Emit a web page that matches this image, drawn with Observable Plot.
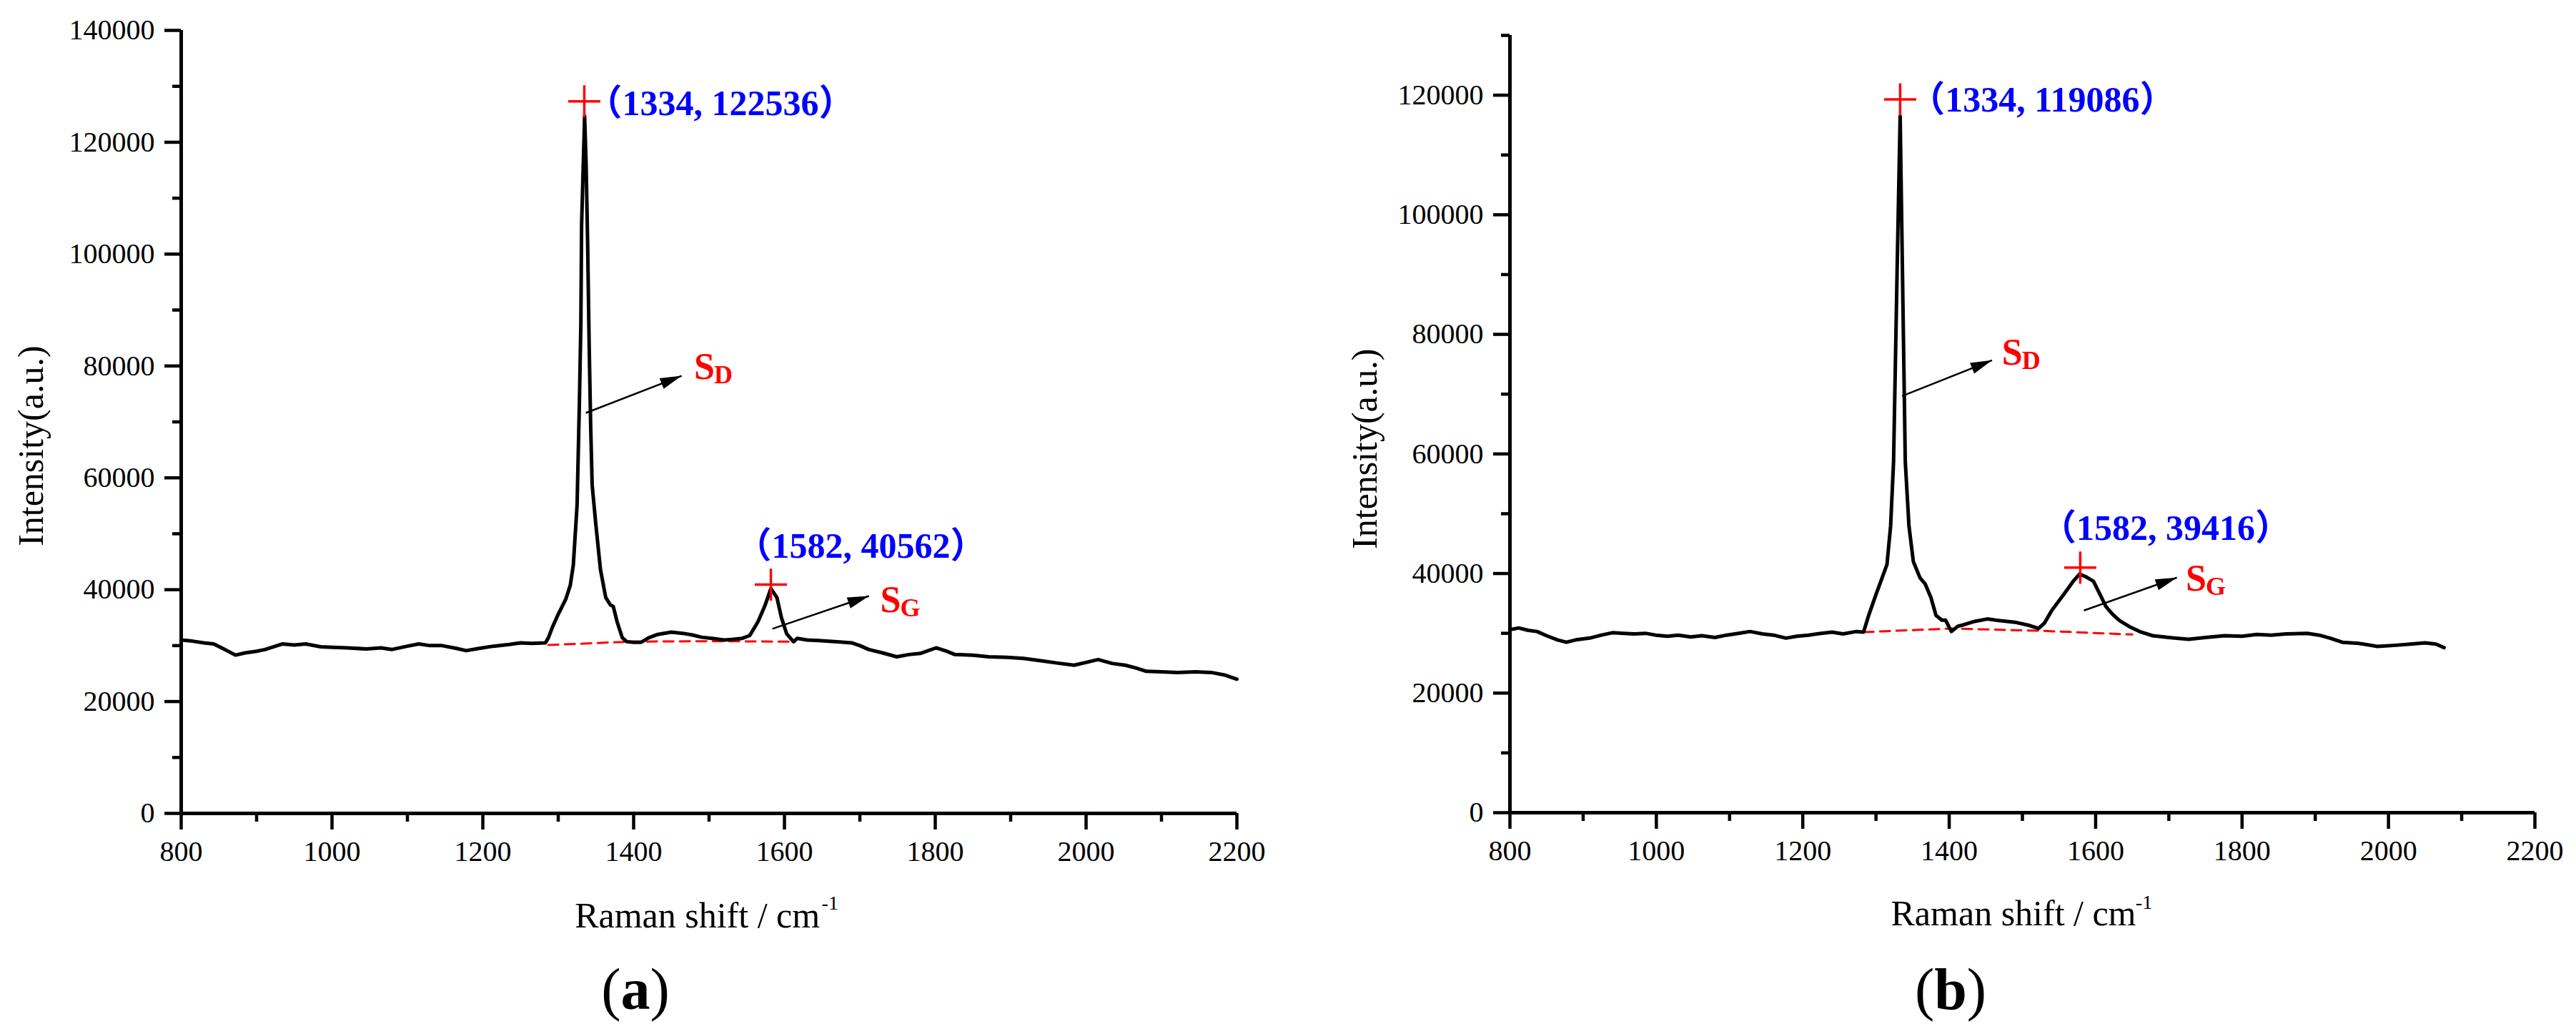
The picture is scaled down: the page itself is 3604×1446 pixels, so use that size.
<!DOCTYPE html>
<html><head><meta charset="utf-8">
<script src="https://cdn.jsdelivr.net/npm/d3@7"></script>
<script src="https://cdn.jsdelivr.net/npm/@observablehq/plot@0.6"></script>
<style>
body{margin:0;background:#fff;}
#wrap{position:relative;width:3604px;height:1446px;background:#fff;overflow:hidden;}
.panel{position:absolute;top:0;}
.panel svg text{font-family:"Liberation Serif","Noto Sans CJK SC",serif;}
.cap{position:absolute;top:1343px;width:200px;text-align:center;font-family:"Liberation Serif",serif;font-size:82px;line-height:82px;color:#000;}
</style></head><body>
<div id="wrap">
<div id="pa" class="panel" style="left:0"></div>
<div id="pb" class="panel" style="left:1800px"></div>
<div class="cap" style="left:789px">(<b>a</b>)</div>
<div class="cap" style="left:2629px">(<b>b</b>)</div>
</div>
<script>
// ---------- Panel (a) spectrum ----------
const shiftA = [800,815,830,843,855,872,885,900,911,934,950,965,985,1001,1020,1046,1065,1079,1100,1115,1130,1146,1165,1178,1195,1214,1235,1250,1265,1283,1287,1292,1300,1310,1316,1320,1325,1328,1330,1331,1334,1335,1337,1339,1341,1343,1345,1350,1356,1363,1369,1373,1378,1385,1391,1400,1410,1420,1432,1450,1465,1478,1490,1504,1520,1530,1544,1554,1565,1574,1582,1590,1596,1603,1612,1617,1630,1645,1670,1689,1700,1712,1730,1749,1765,1780,1801,1815,1826,1850,1871,1895,1917,1940,1961,1984,2000,2016,2035,2052,2066,2080,2100,2121,2145,2166,2185,2200];
const intensityA = [31000,30800,30500,30300,29500,28300,28700,29000,29300,30300,30100,30300,29800,29700,29600,29400,29600,29300,29900,30300,30000,30000,29500,29100,29500,29900,30200,30500,30400,30500,31400,33200,35600,38300,40800,44400,55100,73000,87400,105300,119800,124700,116000,101800,83900,69400,58700,51500,43600,38600,37300,37000,34300,31400,30700,30600,30600,31400,32000,32400,32200,31900,31500,31300,31000,31100,31300,31800,34300,37100,40200,38600,35000,32100,30700,31300,31000,30900,30700,30500,30000,29300,28700,28000,28400,28600,29600,29000,28400,28300,28000,27900,27700,27300,26900,26500,27000,27500,26800,26500,26000,25400,25300,25200,25300,25200,24700,24000];
const baseShiftA = [1287,1393,1500,1614];
const baseA = [30100,30700,30800,30700];
// annotations (a)
const crossXA = [1334.6,1582];
const crossYA = [127300,40900];
const labelTextA = ["（1334, 122536）","（1582, 40562）"];
const labelXA = [1337.5,1535.6];
const labelYA = [124900,45770];
const sLabelXA = [1480,1727];
const sLabelYA = [77730,35930];
const subA = ["D","G"];
const arrowX1A = [1336.6,1584], arrowY1A = [71600,33000];
const arrowX2A = [1463.6,1712], arrowY2A = [78240,38870];

// ---------- Panel (b) spectrum ----------
const shiftB = [800,812,825,837,850,865,877,890,909,925,940,955,970,985,999,1015,1030,1047,1062,1080,1096,1112,1128,1145,1160,1177,1192,1208,1225,1240,1255,1273,1283,1290,1300,1315,1320,1324,1329,1333,1336,1340,1345,1351,1360,1367,1375,1382,1390,1395,1403,1412,1419,1435,1452,1470,1492,1510,1522,1530,1540,1557,1570,1578,1586,1597,1606,1614,1623,1633,1648,1662,1678,1700,1727,1750,1776,1800,1820,1840,1860,1889,1905,1920,1937,1960,1985,2010,2030,2050,2065,2076];
const intensityB = [30600,30900,30500,30300,29600,28900,28500,28900,29200,29700,30100,30000,29900,30000,29700,29500,29700,29400,29600,29300,29700,30000,30300,29900,29700,29200,29500,29700,30000,30200,29900,30300,30200,33000,36500,41500,48000,58700,91700,116500,91700,58700,48000,42000,39300,38300,36000,33000,32200,32200,30300,31200,31400,32000,32400,32100,31800,31300,30800,31700,33800,36600,38800,39900,39500,38700,36500,34500,33200,32100,31000,30200,29600,29300,29000,29300,29600,29500,29800,29700,29900,30000,29700,29200,28500,28300,27800,28000,28200,28400,28200,27600];
const baseShiftB = [1283,1403,1529,1650];
const baseB = [30200,30800,30400,29800];
// annotations (b)
const crossXB = [1333,1579];
const crossYB = [119300,41000];
const labelTextB = ["（1334, 119086）","（1582, 39416）"];
const labelXB = [1345.4,1525];
const labelYB = [117250,45660];
const sLabelXB = [1472,1723];
const sLabelYB = [74940,37170];
const subB = ["D","G"];
const arrowX1B = [1335.6,1584], arrowY1B = [69680,33820];
const arrowX2B = [1458.5,1711], arrowY2B = [75660,39320];

// ---------- axis texts ----------
const xTicks = [800,1000,1200,1400,1600,1800,2000,2200];
const xMinor = [900,1100,1300,1500,1700,1900,2100];
const yTitle = "Intensity(a.u.)";
const xTitle = "Raman shift / cm";
const xTitleSup = "-1";

const SERIF = "'Liberation Serif','Times New Roman',serif";
const LABELFONT = "'Liberation Serif','Noto Sans CJK SC',serif";

function panel(o) {
  const spec = o.shift.map((x, i) => ({x, y: o.intensity[i]}));
  const base = o.baseShift.map((x, i) => ({x, y: o.base[i]}));
  const cross = o.crossX.map((x, i) => ({x, y: o.crossY[i]}));
  const labels = o.labelText.map((t, i) => ({x: o.labelX[i], y: o.labelY[i], t}));
  const sl = o.sub.map((s, i) => ({x: o.sLabelX[i], y: o.sLabelY[i], s}));
  const arrows = o.ax1.map((x1, i) => ({x1, y1: o.ay1[i], x2: o.ax2[i], y2: o.ay2[i]}));
  // pixel-space scales mirroring the plot layout, for arrowhead direction
  const sx = d3.scaleLinear([800, 2200], [o.mL, o.W - o.mR]);
  const sy = d3.scaleLinear([0, o.yMax], [o.H - o.mB, o.mT]);
  const rot = d => 90 + Math.atan2(sy(d.y2) - sy(d.y1), sx(d.x2) - sx(d.x1)) * 180 / Math.PI;
  return Plot.plot({
    width: o.W, height: o.H,
    marginLeft: o.mL, marginRight: o.mR, marginTop: o.mT, marginBottom: o.mB,
    style: {fontFamily: SERIF, fontSize: "40px", color: "black", background: "white", overflow: "visible"},
    x: {domain: [800, 2200], axis: null},
    y: {domain: [0, o.yMax], axis: null},
    marks: [
      Plot.line(base, {x: "x", y: "y", stroke: "#ff0000", strokeWidth: 3, strokeDasharray: "14,9"}),
      Plot.line(spec, {x: "x", y: "y", stroke: "black", strokeWidth: 5, strokeLinejoin: "round"}),
      Plot.axisX({ticks: xTicks, tickSize: 23, tickPadding: 15, strokeWidth: 4.5, tickFormat: d => String(d), label: null, fontSize: 40, fontFamily: SERIF}),
      Plot.axisX({ticks: xMinor, tickSize: 12, strokeWidth: 4.5, text: null, label: null}),
      Plot.axisY({ticks: o.yMajor, tickSize: 23, tickPadding: 14, strokeWidth: 4.5, tickFormat: d => String(d), label: null, fontSize: 40, fontFamily: SERIF}),
      Plot.axisY({ticks: o.yMinor, tickSize: 12, strokeWidth: 4.5, text: null, label: null}),
      Plot.ruleX([800], {strokeWidth: 5}),
      Plot.ruleY([0], {strokeWidth: 5}),
      Plot.link(arrows, {x1: "x1", y1: "y1", x2: "x2", y2: "y2", stroke: "black", strokeWidth: 2.5}),
      Plot.vector(arrows, {x: "x2", y: "y2", length: 30, rotate: rot, shape: "spike", r: 8, anchor: "end", fill: "black", stroke: "none"}),
      Plot.dot(cross, {x: "x", y: "y", symbol: "plus", r: 14.5, stroke: "#ff0000", strokeWidth: 3.5}),
      Plot.text(labels, {x: "x", y: "y", text: "t", textAnchor: "start", lineAnchor: "bottom", fill: "#0000ff", fontWeight: "bold", fontSize: 50, fontFamily: LABELFONT}),
      Plot.text(sl, {x: "x", y: "y", text: () => "S", textAnchor: "start", lineAnchor: "bottom", fill: "#ff0000", fontWeight: "bold", fontSize: 52, fontFamily: SERIF}),
      Plot.text(sl, {x: "x", y: "y", text: "s", dx: 28, dy: 6, textAnchor: "start", lineAnchor: "bottom", fill: "#ff0000", fontWeight: "bold", fontSize: 36, fontFamily: SERIF}),
      Plot.text([yTitle], {x: o.yTitleX, y: o.yTitleY, text: d => d, rotate: -90, textAnchor: "middle", lineAnchor: "middle", fontSize: 50, fill: "black", fontFamily: SERIF}),
      Plot.text([xTitle], {x: o.xTitleX, y: o.xTitleY, text: d => d, textAnchor: "middle", lineAnchor: "bottom", fontSize: 50, fill: "black", fontFamily: SERIF}),
      Plot.text([xTitleSup], {x: o.supX, y: o.supY, text: d => d, textAnchor: "start", lineAnchor: "bottom", fontSize: 28, fill: "black", fontFamily: SERIF})
    ]
  });
}

document.getElementById("pa").append(panel({
  W: 1800, H: 1320, mL: 253, mR: 70, mT: 42, mB: 183, yMax: 140000,
  yMajor: d3.range(0, 140001, 20000), yMinor: d3.range(10000, 140000, 20000),
  shift: shiftA, intensity: intensityA, baseShift: baseShiftA, base: baseA,
  crossX: crossXA, crossY: crossYA, labelText: labelTextA, labelX: labelXA, labelY: labelYA,
  sLabelX: sLabelXA, sLabelY: sLabelYA, sub: subA,
  ax1: arrowX1A, ay1: arrowY1A, ax2: arrowX2A, ay2: arrowY2A,
  yTitleX: 601.4, yTitleY: 65700, xTitleX: 1484.5, xTitleY: -20400, supX: 1649.4, supY: -17260
}));
document.getElementById("pb").append(panel({
  W: 1804, H: 1320, mL: 312, mR: 58, mT: 49, mB: 184, yMax: 130000,
  yMajor: d3.range(0, 120001, 20000), yMinor: d3.range(10000, 130001, 20000),
  shift: shiftB, intensity: intensityB, baseShift: baseShiftB, base: baseB,
  crossX: crossXB, crossY: crossYB, labelText: labelTextB, labelX: labelXB, labelY: labelYB,
  sLabelX: sLabelXB, sLabelY: sLabelYB, sub: subB,
  ax1: arrowX1B, ay1: arrowY1B, ax2: arrowX2B, ay2: arrowY2B,
  yTitleX: 602, yTitleY: 60840, xTitleX: 1487.8, xTitleY: -18880, supX: 1654.6, supY: -16135
}));
</script>
</body></html>
